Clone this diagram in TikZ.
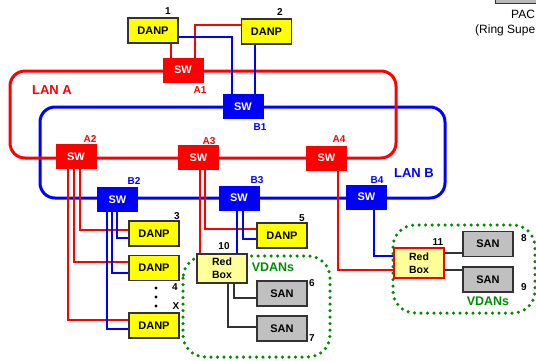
\documentclass[tikz,border=0pt]{standalone}
\usepackage{fontspec}
\setmainfont{Liberation Sans}
\definecolor{lanred}{RGB}{255,0,0}
\definecolor{lanblue}{RGB}{0,0,255}
\definecolor{vgreen}{RGB}{0,140,0}
\definecolor{danpyellow}{RGB}{255,255,0}
\definecolor{rbyellow}{RGB}{255,255,153}
\definecolor{sangray}{RGB}{192,192,192}
\definecolor{edgegray}{RGB}{51,51,51}
\begin{document}
\begin{tikzpicture}[x=1pt,y=-1pt,
 swbox/.style={rectangle,inner sep=0pt,minimum width=40pt,minimum height=24pt,text=white,font=\bfseries\fontsize{11}{13}\selectfont},
 swa/.style={swbox,fill=lanred,draw=lanred},
 swb/.style={swbox,fill=lanblue,draw=lanblue},
 danpbox/.style={rectangle,inner sep=0pt,minimum width=50pt,minimum height=25pt,fill=danpyellow,draw=edgegray,line width=1.1pt,font=\bfseries\fontsize{11}{13}\selectfont},
 sanbox/.style={danpbox,fill=sangray},
 redbox/.style={danpbox,fill=rbyellow,minimum height=29pt,align=center,font=\bfseries\fontsize{10.5}{13}\selectfont},
 numlbl/.style={font=\bfseries\fontsize{10}{12}\selectfont,inner sep=0pt},
 alabel/.style={numlbl,text=lanred},
 blabel/.style={numlbl,text=lanblue},
 lanlbl/.style={font=\bfseries\fontsize{13}{15}\selectfont,inner sep=0pt},
 vlbl/.style={font=\bfseries\fontsize{12.5}{15}\selectfont,inner sep=0pt,text=vgreen},
 ring/.style={line width=3pt,rounded corners=15pt},
 redc/.style={draw=lanred,line width=2.5pt},
 bluec/.style={draw=lanblue,line width=2.5pt},
 grayc/.style={draw=edgegray,line width=2.5pt},
 vgroup/.style={draw=vgreen,line width=3.5pt,dash pattern=on 0pt off 6.5pt,line cap=round,rounded corners=22pt},
 paclbl/.style={font=\fontsize{12}{14}\selectfont,inner sep=0pt,anchor=base west},
]
\useasboundingbox (0,0) rectangle (536,360);
\clip (0,0) rectangle (536,360);
\fill[white] (0,0) rectangle (536,360);

% top-right cut-off box and text
\draw[fill=gray!55,draw=edgegray,line width=0.8pt] (495,-6) rectangle (545,3);
\node[paclbl] (pac) at (511,18) {PAC};
\node[paclbl] (ring) at (475,33) {(Ring Supe};

% green VDAN groups
\draw[vgroup] (183,256) rectangle (330,357);
\draw[vgroup] (393,225) rectangle (535,313);

% rings
\draw[ring,lanblue] (40,107) rectangle (445,198);
\draw[ring,lanred] (10,71) rectangle (396,158);

% switches
\node[swa] (a1) at (183,70) {SW};
\node[swb] (b1) at (243,106.5) {SW};
\node[swa] (a2) at (76,156.5) {SW};
\node[swa] (a3) at (198.5,157.5) {SW};
\node[swa] (a4) at (326.5,158) {SW};
\node[swb] (b2) at (117.5,199.5) {SW};
\node[swb] (b3) at (239,198) {SW};
\node[swb] (b4) at (366.5,197) {SW};

% DANPs
\node[danpbox] (danp1) at (153,30.5) {DANP};
\node[danpbox] (danp2) at (266.5,31.5) {DANP};
\node[danpbox] (danp3) at (154,233.5) {DANP};
\node[danpbox] (danp4) at (154,268) {DANP};
\node[danpbox] (danpx) at (154,325.5) {DANP};
\node[danpbox] (danp5) at (282,235.5) {DANP};

% RedBoxes and SANs
\node[redbox] (rb10) at (222,268.5) {Red\\Box};
\node[redbox,draw=lanred,minimum height=30pt] (rb11) at (419,263) {Red\\Box};
\node[sanbox] (san6) at (282,293.5) {SAN};
\node[sanbox] (san7) at (282,328.5) {SAN};
\node[sanbox] (san8) at (488,244) {SAN};
\node[sanbox] (san9) at (488,279.5) {SAN};

% connectors top
\draw[redc] ([xshift=-12pt]a1.north) -- ([xshift=-12pt]a1.north |- danp1.south);
\draw[redc] ([xshift=12pt]a1.north) |- ([yshift=6.5pt]danp2.west);
\draw[bluec] ([yshift=-6.5pt]danp1.east) -| ([xshift=-11pt]b1.north);
\draw[bluec] ([xshift=12pt]b1.north) -- ([xshift=12pt]b1.north |- danp2.south);

% A2 / B2 to DANPs
\draw[redc] ([xshift=-8pt]a2.south) |- ([yshift=5.5pt]danpx.west);
\draw[redc] ([xshift=-2pt]a2.south) |- ([yshift=6pt]danp4.west);
\draw[redc] ([xshift=4pt]a2.south) |- ([yshift=3.5pt]danp3.west);
\draw[bluec] ([xshift=-10.5pt]b2.south) |- ([yshift=-3.5pt]danpx.west);
\draw[bluec] ([xshift=-5.5pt]b2.south) |- ([yshift=-5pt]danp4.west);
\draw[bluec] ([xshift=-0.5pt]b2.south) |- ([yshift=-4.5pt]danp3.west);

% A3 / B3
\draw[redc] ([xshift=1.5pt]a3.south) -- ([xshift=1.5pt]a3.south |- rb10.north);
\draw[redc] ([xshift=6.5pt]a3.south) |- ([yshift=6.5pt]danp5.west);
\draw[bluec] ([xshift=-2pt]b3.south) -- ([xshift=-2pt]b3.south |- rb10.north);
\draw[bluec] ([xshift=4pt]b3.south) |- ([yshift=-3.5pt]danp5.west);

% A4 / B4
\draw[redc] ([xshift=11.5pt]a4.south) |- ([yshift=-7pt]rb11.west);
\draw[bluec] ([xshift=7.5pt]b4.south) |- ([yshift=7pt]rb11.west);

% RedBox to SANs
\draw[grayc] ([xshift=12pt]rb10.south) |- ([yshift=-4.5pt]san6.west);
\draw[grayc] ([xshift=6pt]rb10.south) |- ([yshift=1.5pt]san7.west);
\draw[grayc] ([yshift=10pt]rb11.east) -- ([yshift=10pt]rb11.east -| san8.west);
\draw[grayc] ([yshift=-7pt]rb11.east) -- ([yshift=-7pt]rb11.east -| san9.west);

% dots
\fill (156,288) circle (1.6pt) (156,297) circle (1.6pt) (156,306) circle (1.6pt);

% number labels
\node[numlbl] (n1) at (168,11) {1};
\node[numlbl] (n2) at (280,12) {2};
\node[numlbl] (n3) at (177,216) {3};
\node[numlbl] (n4) at (175,287) {4};
\node[numlbl] (nx) at (176,306) {X};
\node[numlbl] (n5) at (302,218) {5};
\node[numlbl] (n10) at (224,246) {10};
\node[numlbl] (n11) at (438,242) {11};
\node[numlbl] (n6) at (312,283) {6};
\node[numlbl] (n7) at (312,338) {7};
\node[numlbl] (n8) at (524,238) {8};
\node[numlbl] (n9) at (524,287) {9};

% switch labels
\node[alabel] (la1) at (200,90) {A1};
\node[blabel] (lb1) at (260,127) {B1};
\node[alabel] (la2) at (90,139) {A2};
\node[alabel] (la3) at (209,141) {A3};
\node[alabel] (la4) at (339,139) {A4};
\node[blabel] (lb2) at (134,181) {B2};
\node[blabel] (lb3) at (257,180) {B3};
\node[blabel] (lb4) at (377,180) {B4};

% LAN labels
\node[lanlbl,text=lanred] (lana) at (52,90) {LAN A};
\node[lanlbl,text=lanblue] (lanb) at (414,173) {LAN B};

% VDAN labels
\node[vlbl] (v1) at (273,267) {VDANs};
\node[vlbl] (v2) at (488,301) {VDANs};
\end{tikzpicture}
\end{document}
